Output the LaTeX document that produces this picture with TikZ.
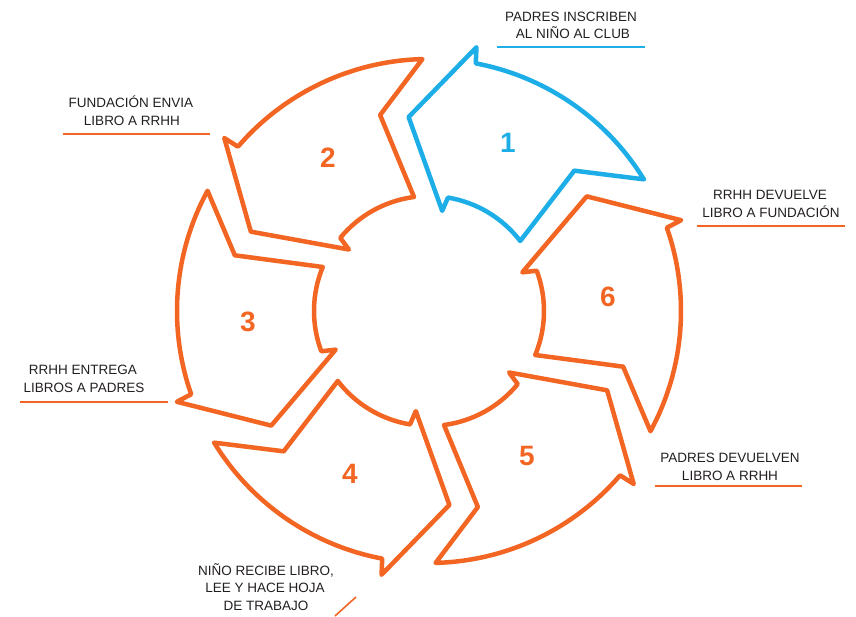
\documentclass[tikz,border=0pt]{standalone}
\usepackage{fontspec}
\setmainfont{Liberation Sans}
\definecolor{orng}{RGB}{242,101,34}
\definecolor{skyb}{RGB}{29,174,232}
\definecolor{txt}{RGB}{35,31,32}
\begin{document}
\begin{tikzpicture}[x=1pt,y=1pt,
  seg/.style={line width=4.5pt, line join=round, line cap=round},
  num/.style={font=\fontsize{28}{30}\selectfont\bfseries, inner sep=0pt},
  lbl/.style={font=\fontsize{13.5}{16}\selectfont, text=txt, inner sep=0pt, anchor=base},
  uline/.style={line width=1.6pt}]
\useasboundingbox (-429,-306) rectangle (427,311);
% circular arrow segments
\foreach \k/\c in {0/skyb,60/orng,120/orng,180/orng,240/orng,300/orng}{
  \draw[seg,draw=\c] ({\k+79.3}:252pt) -- ({\k+79.8}:268pt) -- ({\k+96}:195pt)
     -- ({\k+82.5}:101pt) -- ({\k+80.5}:115pt)
     arc[start angle={\k+80.5}, end angle={\k+37.5}, radius=115pt]
     -- ({\k+44}:202pt) -- ({\k+31.5}:252pt)
     arc[start angle={\k+31.5}, end angle={\k+79.3}, radius=252pt] -- cycle;
}
% numbers
\node[num,text=skyb] (n1) at (79,168) {1};
\node[num,text=orng] (n2) at (-101,153) {2};
\node[num,text=orng] (n3) at (-181,-11) {3};
\node[num,text=orng] (n4) at (-79,-163) {4};
\node[num,text=orng] (n5) at (98,-145) {5};
\node[num,text=orng] (n6) at (179,14) {6};
% label 1
\node[lbl] (l1a) at (142,289) {PADRES INSCRIBEN};
\node[lbl] (l1b) at (144,272) {AL NIÑO AL CLUB};
\coordinate (u1a) at (68,264); \coordinate (u1b) at (216,264);
\draw[uline,skyb] (u1a) -- (u1b);
% label 2
\node[lbl] (l2a) at (-298,203) {FUNDACIÓN ENVIA};
\node[lbl] (l2b) at (-297,185) {LIBRO A RRHH};
\coordinate (u2a) at (-366,177); \coordinate (u2b) at (-219,177);
\draw[uline,orng] (u2a) -- (u2b);
% label 3
\node[lbl] (l3a) at (-346,-64) {RRHH ENTREGA};
\node[lbl] (l3b) at (-345,-82) {LIBROS A PADRES};
\coordinate (u3a) at (-409,-91); \coordinate (u3b) at (-261,-91);
\draw[uline,orng] (u3a) -- (u3b);
% label 4
\node[lbl] (l4a) at (-163,-265) {NIÑO RECIBE LIBRO,};
\node[lbl] (l4b) at (-164,-282) {LEE Y HACE HOJA};
\node[lbl] (l4c) at (-163,-299) {DE TRABAJO};
\coordinate (u4a) at (-94,-305); \coordinate (u4b) at (-73,-286);
\draw[uline,orng] (u4a) -- (u4b);
% label 5
\node[lbl] (l5a) at (301,-152) {PADRES DEVUELVEN};
\node[lbl] (l5b) at (301,-170) {LIBRO A RRHH};
\coordinate (u5a) at (226,-175); \coordinate (u5b) at (373,-175);
\draw[uline,orng] (u5a) -- (u5b);
% label 6
\node[lbl] (l6a) at (341,111) {RRHH DEVUELVE};
\node[lbl] (l6b) at (342,93) {LIBRO A FUNDACIÓN};
\coordinate (u6a) at (268,85); \coordinate (u6b) at (416,85);
\draw[uline,orng] (u6a) -- (u6b);
\end{tikzpicture}
\end{document}
